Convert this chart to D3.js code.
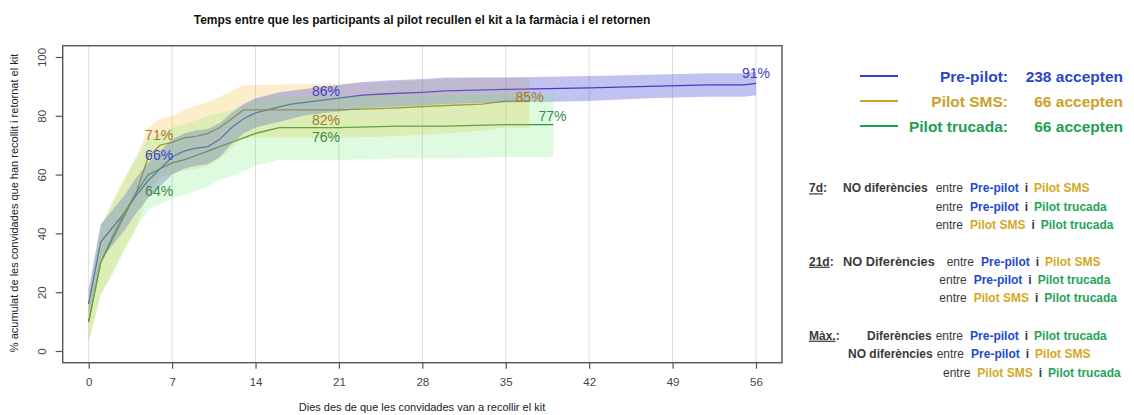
<!DOCTYPE html>
<html>
<head>
<meta charset="utf-8">
<script src="https://cdn.jsdelivr.net/npm/d3@7"></script>
<style>
  html, body { margin: 0; padding: 0; background: #fff; }
  svg { display: block; font-family: "Liberation Sans", Arial, sans-serif; }
</style>
</head>
<body>
<svg id="chart" width="1134" height="415"></svg>
<script>
// ---- Data -------------------------------------------------------------
const groups = ["Pre-pilot", "Pilot SMS", "Pilot trucada"];
const accepted = [238, 66, 66];

const dayTicks = [0, 7, 14, 21, 28, 35, 42, 49, 56];
const pctTicks = [0, 20, 40, 60, 80, 100];

// Pre-pilot: cumulative % returned, with confidence band
const preDays  = [0, 1, 2, 3, 4, 5, 6, 7, 8, 9, 10, 11, 12, 13, 14, 15, 16, 17, 18, 19, 20, 21, 23, 25, 28, 30, 35, 42, 47, 52, 55, 56];
const preValue = [16, 37, 42, 47, 53, 58, 62, 66, 68, 69, 69.5, 72, 76, 79, 81, 82, 83, 84, 84.5, 85, 85.5, 86, 87, 87.5, 88, 88.5, 89, 89.5, 90, 90.5, 90.5, 91];
const preLow   = [12, 31, 36, 41, 47, 52, 56, 60, 62, 63, 63.5, 66, 70.5, 74, 76, 77, 78, 79, 80, 80.5, 81, 81.5, 82.5, 83, 83.5, 84, 84.5, 85, 86, 86.5, 86.5, 87];
const preHigh  = [21, 43, 48, 53, 59, 64, 68, 72, 74, 75, 75.5, 77.5, 81, 84, 86, 87, 88, 88.5, 89, 89.5, 90, 90.5, 91.5, 92, 92.5, 93, 93, 93.5, 94, 94.5, 94.5, 95];

// Pilot SMS
const smsDays  = [0, 1, 2, 3, 4, 5, 6, 7, 8, 9, 10, 11, 12, 13, 14, 21, 25, 30, 33, 35, 37];
const smsValue = [10, 30, 39, 47, 54, 66, 70, 71, 72.5, 73, 74, 76, 79, 82, 82, 82, 82.5, 83.5, 84, 85, 85];
const smsLow   = [3, 19, 27, 35, 42, 54, 59, 60, 61.5, 62, 63, 65.5, 69, 72.5, 72.5, 72.5, 73, 74, 75, 76, 76];
const smsHigh  = [19, 42, 51, 59, 66, 76, 79, 80, 82, 83.5, 84.5, 86.5, 88.5, 90.5, 90.5, 91, 91.5, 92.5, 93, 93, 93];

// Pilot trucada
const callDays  = [0, 1, 2, 3, 4, 5, 6, 7, 8, 9, 10, 11, 12, 13, 14, 15, 16, 21, 26, 30, 35, 39];
const callValue = [10, 30, 38, 46, 54, 60, 62, 64, 65, 66.5, 68, 69.5, 71, 72.5, 74, 75, 76, 76, 76.5, 76.5, 77, 77];
const callLow   = [3, 19, 26, 34, 42, 48, 50, 52, 53, 54.5, 56, 58, 59.5, 61, 63, 64, 65, 65, 65.5, 65.5, 66, 66];
const callHigh  = [19, 42, 50, 58, 66, 72, 74, 76, 77, 78.5, 80, 81, 82, 83.5, 85, 86, 86.5, 86.5, 87, 87, 87.5, 87.5];

// Statistical comparison notes shown beside the chart
const noteRows = [
  { key: "7d",   tail: ":", lead: "NO diferències", pair: [0, 1] },
  { pair: [0, 2] },
  { pair: [1, 2] },
  { key: "21d",  tail: ":", lead: "NO Diferències", pair: [0, 1] },
  { pair: [0, 2] },
  { pair: [1, 2] },
  { key: "Màx.", tail: ":", lead: "Diferències",    pair: [0, 2] },
  { lead: "NO diferències", pair: [0, 1] },
  { pair: [1, 2] }
];

// ---- Styling ---------------------------------------------------------
const lineColor  = ["#3030b8", "#a06a14", "#2a7a30"];
const bandColor  = ["rgba(85,85,215,0.36)", "rgba(245,195,70,0.28)", "rgba(110,235,110,0.22)"];
const bandOrder  = [1, 0, 2];   // yellow, then blue, green on top
const labelColor = ["#4040c0", "#a87a2c", "#3a8a4c"];
const legendColor = ["#2a45cc", "#c9a227", "#1f9e55"];
const noteColor  = ["#2349d0", "#d4a825", "#1fa55a"];

const series = [
  { days: preDays,  value: preValue,  low: preLow,  high: preHigh },
  { days: smsDays,  value: smsValue,  low: smsLow,  high: smsHigh },
  { days: callDays, value: callValue, low: callLow, high: callHigh }
].map(s => s.days.map((d, i) => ({ day: d, v: s.value[i], lo: s.low[i], hi: s.high[i] })));

// ---- Layout ----------------------------------------------------------
const svg = d3.select("#chart");
const box = { left: 62.7, right: 782, top: 45.7, bottom: 362.7 };

const x = d3.scaleLinear().domain([0, 56]).range([88.7, 756]);
const y = d3.scaleLinear().domain([0, 100]).range([351, 57]);

// Title
svg.append("text")
  .attr("x", 422).attr("y", 24)
  .attr("text-anchor", "middle")
  .attr("font-size", 12).attr("font-weight", "bold").attr("fill", "#111")
  .text("Temps entre que les participants al pilot recullen el kit a la farmàcia i el retornen");

// Vertical grid
svg.append("g").selectAll("line").data(dayTicks).join("line")
  .attr("x1", d => x(d)).attr("x2", d => x(d))
  .attr("y1", box.top).attr("y2", box.bottom)
  .attr("stroke", "#dcdcdc").attr("stroke-width", 1);

// Lines (drawn under the translucent confidence bands)
const line = d3.line().x(d => x(d.day)).y(d => y(d.v));
const area = d3.area().x(d => x(d.day)).y0(d => y(d.lo)).y1(d => y(d.hi));

series.forEach((s, i) => {
  svg.append("path").datum(s)
    .attr("d", line).attr("fill", "none")
    .attr("stroke", lineColor[i]).attr("stroke-width", 1.3);
});
bandOrder.forEach(i => {
  svg.append("path").datum(series[i])
    .attr("d", area).attr("fill", bandColor[i]).attr("stroke", "none");
});

// Plot frame
svg.append("rect")
  .attr("x", box.left).attr("y", box.top)
  .attr("width", box.right - box.left).attr("height", box.bottom - box.top)
  .attr("fill", "none").attr("stroke", "#555").attr("stroke-width", 1.4);

// X axis
const xAxis = svg.append("g")
  .attr("transform", `translate(0,${box.bottom})`)
  .call(d3.axisBottom(x).tickValues(dayTicks).tickSize(6).tickPadding(9).tickFormat(d3.format("d")));
xAxis.select(".domain").remove();
xAxis.selectAll("line").attr("stroke", "#555").attr("stroke-width", 1.2);
xAxis.selectAll("text").attr("font-size", 11.5).attr("fill", "#444")
  .attr("font-family", "Liberation Sans, Arial, sans-serif");

// Y axis with rotated labels
const yAxis = svg.append("g")
  .attr("transform", `translate(${box.left},0)`)
  .call(d3.axisLeft(y).tickValues(pctTicks).tickSize(7).tickFormat(d3.format("d")));
yAxis.select(".domain").remove();
yAxis.selectAll("line").attr("stroke", "#555").attr("stroke-width", 1.2);
yAxis.selectAll("text")
  .attr("font-size", 11.5).attr("fill", "#444")
  .attr("font-family", "Liberation Sans, Arial, sans-serif")
  .attr("x", null).attr("dy", null)
  .attr("text-anchor", "middle")
  .attr("transform", "translate(-20,0) rotate(-90)")
  .attr("dominant-baseline", "middle");

// Axis titles
svg.append("text")
  .attr("x", 422).attr("y", 411)
  .attr("text-anchor", "middle").attr("font-size", 11).attr("fill", "#222")
  .text("Dies des de que les convidades van a recollir el kit");
svg.append("text")
  .attr("transform", "translate(18,203) rotate(-90)")
  .attr("text-anchor", "middle").attr("font-size", 11).attr("fill", "#222")
  .text("% acumulat de les convidades que han recollit i retornat el kit");

// Value labels at day 7, day 21 and the last observed day
const labelDays = [[7, 21, 56], [7, 21, 37], [7, 21, 39]];
const labelShift = [
  [[-13, -1], [-13, -6], [0, -9.5]],
  [[-13, -6], [-13, 11], [0, -3]],
  [[-13, 29], [-13, 11], [-1, -7]]
];
series.forEach((s, i) => {
  labelDays[i].forEach((d, j) => {
    const pt = s.find(p => p.day === d);
    svg.append("text")
      .attr("x", x(pt.day) + labelShift[i][j][0])
      .attr("y", y(pt.v) + labelShift[i][j][1])
      .attr("text-anchor", "middle").attr("dominant-baseline", "middle")
      .attr("font-size", 14).attr("fill", labelColor[i])
      .text(d3.format("d")(pt.v) + "%");
  });
});

// Legend
const legY = [76, 101, 126];
groups.forEach((g, i) => {
  svg.append("line")
    .attr("x1", 860).attr("x2", 898).attr("y1", legY[i]).attr("y2", legY[i])
    .attr("stroke", legendColor[i]).attr("stroke-width", 2);
  svg.append("text")
    .attr("x", 1008).attr("y", legY[i] + 5.5)
    .attr("text-anchor", "end").attr("font-size", 15.5).attr("font-weight", "bold")
    .attr("fill", legendColor[i]).text(g + ":");
  svg.append("text")
    .attr("x", 1123).attr("y", legY[i] + 5.5)
    .attr("text-anchor", "end").attr("font-size", 15.5).attr("font-weight", "bold")
    .attr("fill", legendColor[i]).text(accepted[i] + " accepten");
});

// Comparison notes
const rowY = [188.3, 207.3, 225, 261.7, 280, 298.3, 335.7, 354.3, 373.3];
const leadX = [843, null, null, 843, null, null, 867, 848, null];
const leadSize = [12, null, null, 12.8, null, null, 12, 12, null];
const entreX = [935.7, 935.7, 935.7, 946.7, 939.3, 939.3, 935.7, 936.7, 943];
const textGray = "#3a3a3a";

noteRows.forEach((r, k) => {
  const by = rowY[k] + 4;
  if (r.key) {
    const t = svg.append("text").attr("x", 809).attr("y", by)
      .attr("font-size", 12).attr("font-weight", "bold").attr("fill", textGray);
    t.append("tspan").attr("text-decoration", "underline").text(r.key);
    t.append("tspan").text(r.tail);
  }
  if (r.lead) {
    svg.append("text").attr("x", leadX[k]).attr("y", by)
      .attr("font-size", leadSize[k]).attr("font-weight", "bold").attr("fill", textGray)
      .text(r.lead);
  }
  const t = svg.append("text").attr("x", entreX[k]).attr("y", by).attr("font-size", 12);
  t.append("tspan").attr("fill", textGray).text("entre");
  t.append("tspan").attr("dx", 7).attr("font-weight", "bold").attr("fill", noteColor[r.pair[0]]).text(groups[r.pair[0]]);
  t.append("tspan").attr("dx", 6).attr("font-weight", "bold").attr("fill", textGray).text("i");
  t.append("tspan").attr("dx", 6).attr("font-weight", "bold").attr("fill", noteColor[r.pair[1]]).text(groups[r.pair[1]]);
});
</script>
</body>
</html>
